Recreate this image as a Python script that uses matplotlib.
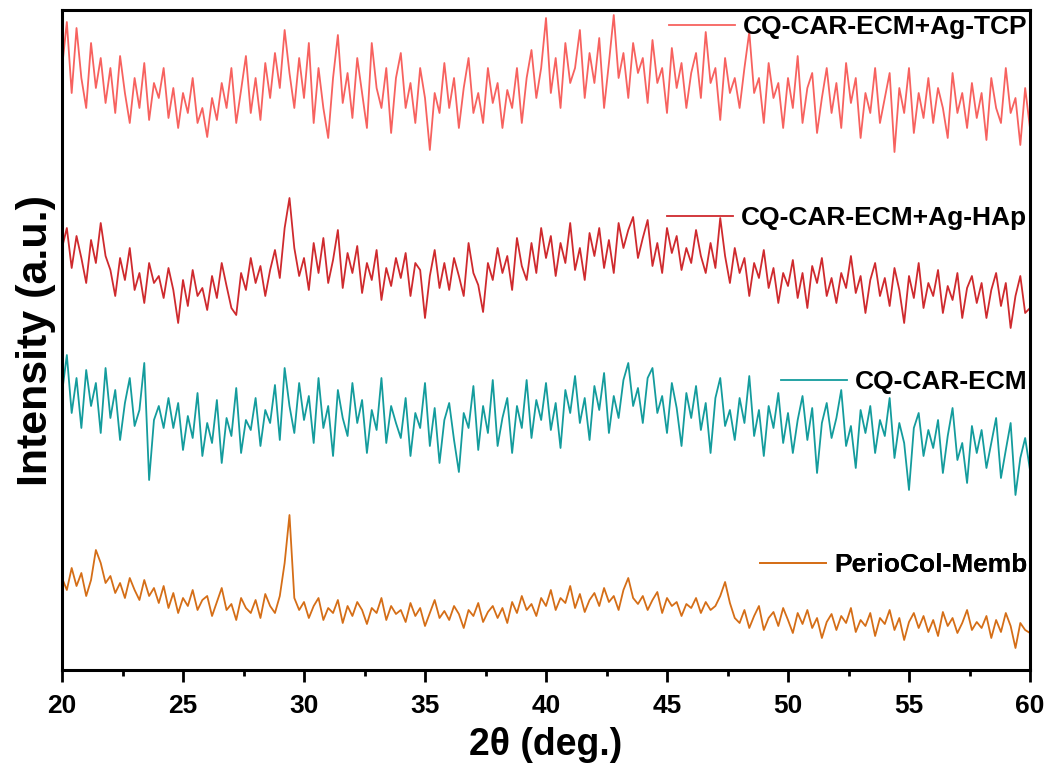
import numpy as np
import matplotlib
matplotlib.use("Agg")
import matplotlib.pyplot as plt
from matplotlib.ticker import MultipleLocator

plt.rcParams['font.family'] = ['Liberation Sans', 'DejaVu Sans']
plt.rcParams['font.weight'] = 'bold'

# 2theta grid, 20..60 deg in 0.2 deg steps
two_theta = np.linspace(20, 60, 201)

# intensities (a.u.), already stacked
tcp = [
    600, 646, 575, 640, 590, 560, 625, 580, 610, 565,
    600, 555, 612, 575, 545, 590, 560, 605, 548, 585,
    570, 600, 550, 580, 540, 575, 555, 590, 545, 560,
    531, 570, 548, 585, 560, 600, 545, 578, 612, 555,
    590, 548, 605, 570, 615, 580, 638, 595, 560, 610,
    570, 625, 545, 600, 560, 530, 590, 633, 565, 595,
    550, 610, 575, 540, 625, 580, 560, 600, 535, 590,
    615, 560, 585, 545, 600, 570, 518, 575, 555, 605,
    560, 590, 540, 580, 610, 555, 575, 545, 600, 565,
    585, 540, 578, 560, 600, 545, 590, 618, 570, 600,
    650, 575, 610, 560, 625, 585, 600, 638, 570, 615,
    585, 630, 560, 605, 653, 590, 615, 570, 625, 595,
    610, 565, 628, 585, 600, 555, 620, 580, 605, 560,
    595, 615, 570, 636, 585, 600, 548, 610, 575, 590,
    560, 600, 636, 575, 590, 545, 605, 570, 585, 540,
    590, 560, 612, 545, 580, 595, 535, 570, 600, 555,
    585, 540, 605, 565, 590, 530, 575, 555, 600, 545,
    570, 595, 516, 580, 555, 600, 535, 575, 550, 590,
    545, 580, 560, 530, 595, 555, 575, 540, 585, 550,
    575, 528, 590, 560, 545, 600, 555, 570, 523, 580,
    540]

hap = [
    420, 440, 400, 432, 410, 385, 428, 405, 445, 412,
    398, 372, 410, 388, 420, 378, 395, 365, 405, 385,
    392, 370, 400, 378, 345, 388, 362, 398, 372, 380,
    358, 392, 370, 405, 382, 360, 353, 395, 378, 410,
    385, 402, 372, 398, 418, 390, 440, 470, 420, 392,
    410, 378, 425, 395, 430, 385, 408, 438, 380, 415,
    395, 422, 375, 405, 388, 418, 368, 400, 382, 410,
    390, 415, 372, 405, 398, 350, 392, 418, 380, 405,
    378, 410, 392, 372, 425, 395, 383, 356, 405, 388,
    420, 395, 412, 378, 430, 402, 388, 425, 395, 440,
    410, 432, 392, 425, 405, 445, 398, 420, 388, 435,
    412, 440, 400, 428, 395, 445, 420, 438, 451, 410,
    430, 448, 402, 425, 395, 440, 415, 432, 398, 420,
    405, 438, 412, 395, 425, 400, 450, 412, 385, 420,
    395, 410, 372, 405, 390, 418, 380, 400, 365, 395,
    382, 408, 370, 395, 360, 402, 385, 410, 372, 390,
    365, 395, 380, 412, 375, 392, 355, 388, 405, 372,
    390, 362, 400, 378, 345, 392, 370, 405, 360, 385,
    372, 398, 355, 382, 368, 395, 350, 380, 392, 365,
    385, 350, 378, 395, 362, 385, 340, 372, 392, 355,
    360]

ecm = [
    275, 313, 255, 290, 240, 298, 262, 285, 235, 300,
    250, 278, 228, 265, 290, 242, 258, 305, 188, 248,
    262, 240, 270, 240, 265, 218, 252, 230, 275, 212,
    245, 225, 268, 205, 250, 232, 280, 215, 248, 238,
    270, 222, 258, 245, 283, 228, 300, 262, 235, 285,
    248, 272, 225, 290, 240, 262, 212, 278, 250, 232,
    285, 245, 268, 215, 258, 238, 290, 225, 262, 245,
    230, 270, 212, 255, 240, 285, 222, 260, 205, 248,
    265, 228, 196, 255, 240, 282, 218, 262, 235, 288,
    222, 250, 270, 215, 262, 240, 288, 230, 268, 248,
    285, 238, 265, 220, 278, 255, 292, 245, 270, 228,
    282, 258, 295, 235, 272, 250, 288, 305, 262, 280,
    245, 290, 300, 255, 272, 235, 285, 260, 222, 275,
    250, 282, 238, 265, 215, 270, 290, 242, 258, 228,
    270, 245, 292, 232, 258, 212, 262, 240, 275, 225,
    255, 215, 248, 272, 228, 260, 195, 245, 265, 230,
    250, 278, 222, 242, 200, 258, 235, 262, 215, 248,
    232, 270, 210, 245, 225, 178, 240, 255, 212, 238,
    220, 248, 195, 232, 260, 208, 225, 185, 242, 215,
    238, 200, 225, 250, 190, 218, 245, 173, 210, 230,
    198]

perio = [
    90, 78, 100, 82, 95, 72, 88, 118, 105, 85,
    92, 75, 85, 70, 90, 78, 68, 88, 72, 80,
    65, 82, 60, 75, 55, 70, 62, 78, 58, 68,
    72, 52, 66, 80, 58, 64, 48, 70, 60, 55,
    68, 50, 74, 62, 55, 72, 105, 153, 70, 58,
    66, 50, 62, 70, 48, 60, 55, 68, 45, 62,
    52, 66, 58, 44, 60, 55, 70, 48, 62, 54,
    58, 46, 65, 52, 60, 42, 55, 68, 50, 57,
    48, 62, 54, 40, 58, 52, 65, 46, 56, 62,
    50, 60, 45, 66, 55, 72, 58, 64, 52, 70,
    62, 78, 58, 70, 65, 82, 60, 74, 56, 68,
    75, 62, 80, 66, 72, 58, 78, 90, 70, 64,
    72, 58, 68, 76, 55, 70, 62, 66, 52, 64,
    60, 70, 55, 66, 58, 62, 72, 86, 65, 50,
    45, 58, 40, 52, 62, 38, 50, 56, 42, 60,
    48, 35, 55, 44, 58, 40, 50, 30, 46, 54,
    38, 52, 45, 60, 36, 48, 42, 55, 32, 50,
    44, 58, 38, 50, 28, 46, 55, 40, 52, 36,
    48, 32, 56, 42, 50, 35, 45, 58, 38, 46,
    40, 52, 30, 48, 36, 55, 42, 20, 45, 38,
    35]

labels = ['CQ-CAR-ECM+Ag-TCP', 'CQ-CAR-ECM+Ag-HAp', 'CQ-CAR-ECM', 'PerioCol-Memb']
colors = ['#f7625f', '#cf2a2e', '#149c9d', '#d56e17']
legend_y = [0.974, 0.685, 0.436, 0.159]

fig = plt.figure(figsize=(10.52, 7.67), dpi=100)
ax = fig.add_axes([62/1052, 97/767, 968/1052, 660/767])

lines = []
for ys, c in zip([tcp, hap, ecm, perio], colors):
    ln, = ax.plot(two_theta, ys, color=c, lw=1.3)
    lines.append(ln)

# one small legend next to each curve
for ln, lab, yy in zip(lines, labels, legend_y):
    leg = ax.legend([ln], [lab], loc='center right', bbox_to_anchor=(0.997, yy),
                    frameon=False, fontsize=19, handlelength=2.5, handletextpad=0.3,
                    borderpad=0, borderaxespad=0)
    ax.add_artist(leg)

ax.set_xlim(20, 60)
ax.set_ylim(-2, 658)
ax.xaxis.set_major_locator(MultipleLocator(5))
ax.xaxis.set_minor_locator(MultipleLocator(2.5))
ax.set_yticks([])
ax.tick_params(axis='x', which='major', direction='out', length=8.5, width=2, pad=9, labelsize=19)
ax.tick_params(axis='x', which='minor', direction='out', length=4.5, width=2)
for s in ax.spines.values():
    s.set_linewidth(2.2)

ax.set_xlabel('2θ (deg.)', fontsize=27, fontweight='bold', labelpad=6)
ax.set_ylabel('Intensity (a.u.)', fontsize=31, fontweight='bold', labelpad=4)

fig.savefig('out.png', dpi=100)
